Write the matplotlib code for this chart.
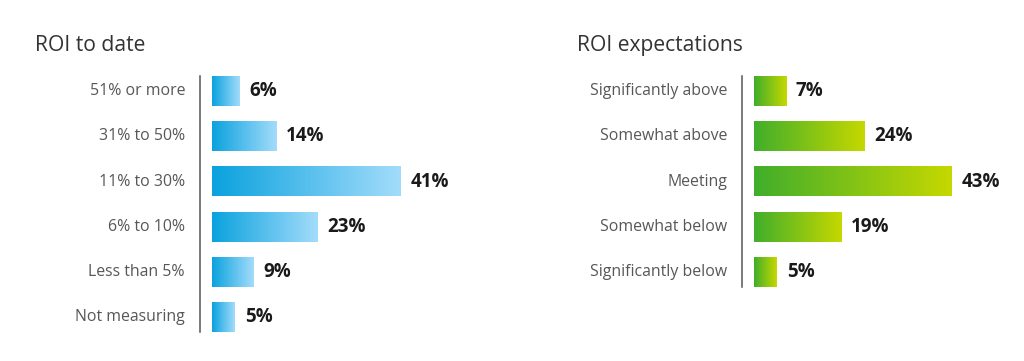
import numpy as np
import matplotlib.pyplot as plt
from matplotlib.colors import LinearSegmentedColormap
from matplotlib.transforms import blended_transform_factory, offset_copy

plt.rcParams['font.family'] = ['Open Sans', 'DejaVu Sans']

# datos
izq_titulo = 'ROI to date'
izq_cats = ['51% or more', '31% to 50%', '11% to 30%', '6% to 10%', 'Less than 5%', 'Not measuring']
izq_vals = [6, 14, 41, 23, 9, 5]

der_titulo = 'ROI expectations'
der_cats = ['Significantly above', 'Somewhat above', 'Meeting', 'Somewhat below', 'Significantly below']
der_vals = [7, 24, 43, 19, 5]

W, H = 1024, 361
px_por_pct = 4.6
hueco = 12 / px_por_pct  # espacio entre la linea y el inicio de la barra
alto_barra = 0.66

azul = LinearSegmentedColormap.from_list('azul', ['#0aa2de', '#a3dcfb'])
verde = LinearSegmentedColormap.from_list('verde', ['#40ae2b', '#c6d800'])

fig = plt.figure(figsize=(W / 100, H / 100), dpi=100)


def panel(x_linea, y_top, cats, vals, cmap, titulo, x_titulo):
    n = len(cats)
    alto_px = n * 45.3 - 45.3 * (1 - alto_barra)
    ancho_px = 280
    ax = fig.add_axes([x_linea / W, 1 - (y_top + alto_px) / H, ancho_px / W, alto_px / H])
    grad = np.linspace(0, 1, 256).reshape(1, -1)
    for i, v in enumerate(vals):
        ax.imshow(grad, cmap=cmap, aspect='auto', interpolation='bilinear',
                  extent=[0, v, i + alto_barra / 2, i - alto_barra / 2], zorder=2)
        ax.annotate(f'{v}%', xy=(v, i), xytext=(7, 0), textcoords='offset points',
                    ha='left', va='center', fontsize=13.5, fontweight='bold', color='#1a1a1a')
    ax.set_xlim(-hueco, -hueco + ancho_px / px_por_pct)
    ax.set_ylim(n - 1 + alto_barra / 2, -alto_barra / 2)
    ax.set_xticks([])
    ax.set_yticks([])

    # etiquetas de categoria a la izquierda de la linea
    trans = offset_copy(blended_transform_factory(ax.transAxes, ax.transData),
                        fig=fig, x=-15, y=0, units='dots')
    for i, c in enumerate(cats):
        ax.text(0, i, c, transform=trans, ha='right', va='center',
                fontsize=11.4, color='#575757')

    for s in ['top', 'right', 'bottom']:
        ax.spines[s].set_visible(False)
    ax.spines['left'].set_color('#555555')
    ax.spines['left'].set_linewidth(1.1)
    fig.text(x_titulo / W, 1 - 51 / H, titulo, fontsize=15.2, color='#333333',
             ha='left', va='baseline')
    return ax


panel(200, 76, izq_cats, izq_vals, azul, izq_titulo, 35)
panel(742, 76, der_cats, der_vals, verde, der_titulo, 577)

fig.savefig('out.png', dpi=100, facecolor='white')
